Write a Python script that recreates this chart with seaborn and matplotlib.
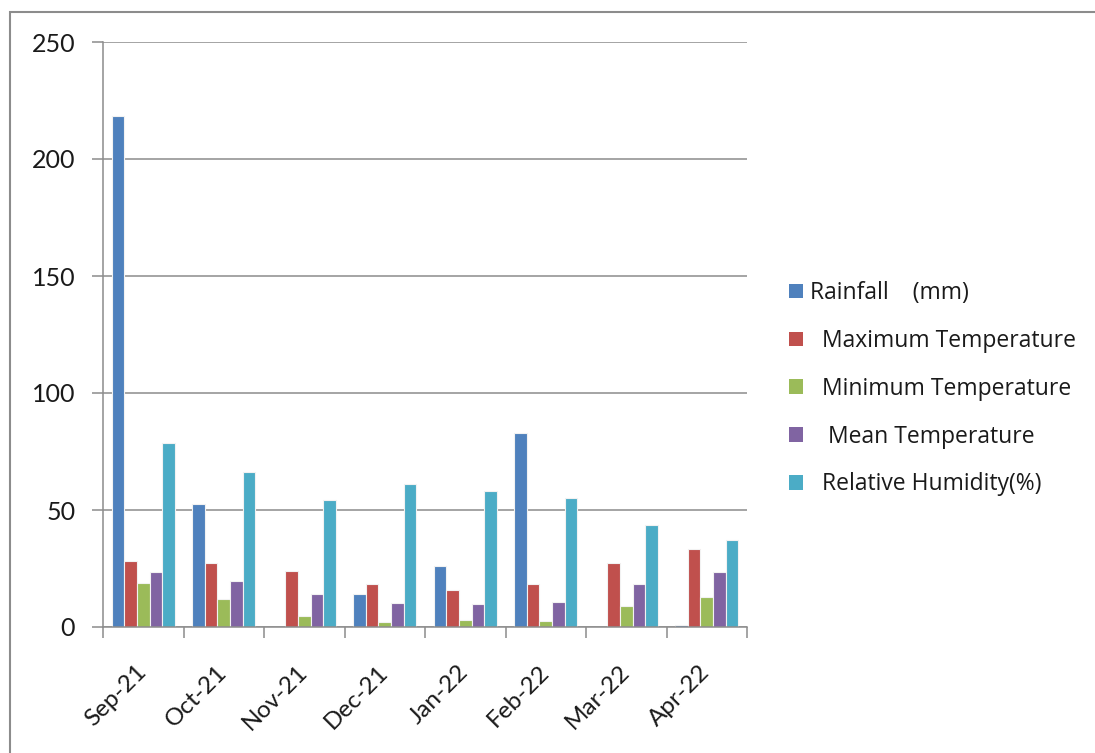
import matplotlib
matplotlib.use("Agg")
import matplotlib.pyplot as plt
from matplotlib.patches import Rectangle, Patch
from matplotlib.transforms import ScaledTranslation
import seaborn as sns
import pandas as pd
import numpy as np

months = ["Sep-21", "Oct-21", "Nov-21", "Dec-21", "Jan-22", "Feb-22", "Mar-22", "Apr-22"]
series_names = ["Rainfall    (mm)", "  Maximum Temperature", "  Minimum Temperature",
                "   Mean Temperature", "  Relative Humidity(%)"]
rainfall = [218.5, 52.4, 0.0, 14.1, 26.1, 82.7, 0.0, 0.8]
max_temp = [28.3, 27.3, 23.9, 18.4, 15.7, 18.4, 27.3, 33.4]
min_temp = [19.0, 11.9, 4.7, 2.1, 3.0, 2.6, 9.1, 13.0]
mean_temp = [23.4, 19.6, 14.1, 10.3, 9.7, 10.7, 18.4, 23.4]
humidity = [78.7, 66.3, 54.3, 61.3, 58.1, 55.3, 43.6, 37.1]
colors = ["#4F81BD", "#C0504D", "#9BBB59", "#8064A2", "#4BACC6"]

values = [rainfall, max_temp, min_temp, mean_temp, humidity]
df = pd.DataFrame({
    "Month": np.tile(months, len(series_names)),
    "Series": np.repeat(series_names, len(months)),
    "Value": np.concatenate(values),
})

sns.set_style("white")
plt.rcParams["font.family"] = ["Lato", "DejaVu Sans"]

fig = plt.figure(figsize=(10.95, 7.53), dpi=100)
ax = fig.add_axes([103 / 1095, 1 - 627 / 753, 644 / 1095, 585 / 753])

sns.barplot(data=df, x="Month", y="Value", hue="Series", order=months,
            hue_order=series_names, palette=colors, width=0.78,
            saturation=1, edgecolor="#f2f2f2", linewidth=0.8, ax=ax, legend=False)

ax.set_xlim(-0.5, len(months) - 0.5)
ax.set_ylim(0, 250)
ax.set_yticks([0, 50, 100, 150, 200, 250])
ax.yaxis.grid(True, color="#8c8c8c", linewidth=1.1)
ax.set_axisbelow(True)
ax.set_xlabel("")
ax.set_ylabel("")

for side in ["top", "right"]:
    ax.spines[side].set_visible(False)
for side in ["left", "bottom"]:
    ax.spines[side].set_color("#8c8c8c")
    ax.spines[side].set_linewidth(1.1)

# category boundaries carry the x tick marks
ax.set_xticks(np.arange(len(months)))
ax.set_xticklabels(months, rotation=45, ha="right", va="center", rotation_mode="anchor",
                   fontsize=17.5, color="#1a1a1a")
shift = ScaledTranslation(6 / 100, 0, fig.dpi_scale_trans)
for lbl in ax.get_xticklabels():
    lbl.set_transform(lbl.get_transform() + shift)
ax.set_xticks(np.arange(-0.5, len(months)), minor=True)
ax.tick_params(axis="x", which="major", length=0, pad=30)
ax.tick_params(axis="x", which="minor", length=8, width=1.1, color="#8c8c8c", direction="out")
ax.tick_params(axis="y", length=8, width=1.1, color="#8c8c8c", direction="out",
               pad=12, labelsize=18, labelcolor="#1a1a1a")
ax.tick_params(bottom=True, left=True, which="both")

handles = [Patch(facecolor=c, edgecolor="none") for c in colors]
fig.legend(handles, series_names, loc="upper left", bbox_to_anchor=(780 / 1095, 1 - 272 / 753),
           frameon=False, handlelength=0.6, handleheight=0.6,
           handletextpad=0.3, labelspacing=1.04, borderaxespad=0, labelcolor="#1a1a1a",
           prop={"family": ["Open Sans", "DejaVu Sans"], "size": 16.5})

fig.patches.append(Rectangle((10 / 1095, -0.01), 1.1, 1 - 12 / 753 + 0.01,
                             transform=fig.transFigure, fill=False,
                             edgecolor="#8c8c8c", linewidth=1.5))

fig.savefig("out.png", dpi=100, facecolor="white")
